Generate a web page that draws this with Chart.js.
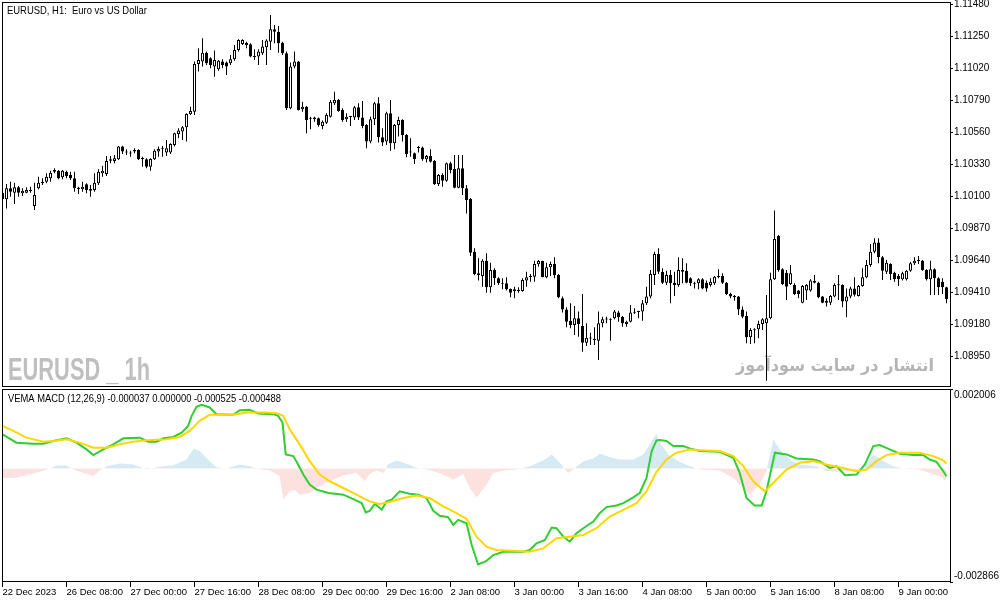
<!DOCTYPE html>
<html>
<head>
<meta charset="utf-8">
<script src="https://cdn.jsdelivr.net/npm/chart.js@4.4.1/dist/chart.umd.min.js"></script>
<style>
html, body { margin: 0; padding: 0; background: #fff; }
#wrap { position: relative; width: 1003px; height: 603px; overflow: hidden; }
canvas { position: absolute; left: 0; }
#price { top: 0; }
#macd { top: 388px; }
</style>
</head>
<body>
<div id="wrap">
  <canvas id="price" width="1003" height="388"></canvas>
  <canvas id="macd" width="1003" height="215"></canvas>
</div>
<script>
// EURUSD H1 candles, one entry per bar (index 0 = 22 Dec 2023)
const opens = [
  1.10124,1.10076,1.10155,1.10124,1.10162,1.10119,1.10124,1.10143,1.10028,1.10155,
  1.10191,1.10203,1.10227,1.10275,1.10282,1.10234,1.10275,1.10251,1.10227,1.10160,
  1.10148,1.10184,1.10150,1.10143,1.10191,1.10263,1.10258,1.10364,1.10352,1.10364,
  1.10455,1.10419,1.10405,1.10431,1.10431,1.10371,1.10364,1.10311,1.10364,1.10419,
  1.10440,1.10412,1.10412,1.10467,1.10546,1.10563,1.10594,1.10687,1.10706,1.11049,
  1.11066,1.11130,1.11090,1.11030,1.11011,1.11066,1.11059,1.11054,1.11082,1.11150,
  1.11193,1.11202,1.11190,1.11106,1.11102,1.11126,1.11169,1.11209,1.11298,1.11281,
  1.11202,1.11126,1.10730,1.11030,1.11066,1.10723,1.10742,1.10660,1.10651,1.10658,
  1.10603,1.10627,1.10670,1.10766,1.10790,1.10718,1.10651,1.10668,1.10665,1.10738,
  1.10665,1.10610,1.10491,1.10651,1.10766,1.10522,1.10491,1.10694,1.10479,1.10610,
  1.10646,1.10539,1.10412,1.10407,1.10445,1.10448,1.10364,1.10388,1.10352,1.10186,
  1.10251,1.10210,1.10335,1.10294,1.10160,1.10299,1.10155,1.10079,1.09700,1.09544,
  1.09525,1.09635,1.09444,1.09568,1.09508,1.09474,1.09472,1.09432,1.09417,1.09422,
  1.09417,1.09492,1.09518,1.09520,1.09609,1.09633,1.09516,1.09587,1.09611,1.09532,
  1.09365,1.09285,1.09204,1.09173,1.09221,1.09166,1.09046,1.09079,1.09072,1.09060,
  1.09185,1.09212,1.09216,1.09221,1.09262,1.09233,1.09180,1.09197,1.09260,1.09271,
  1.09269,1.09329,1.09377,1.09532,1.09683,1.09556,1.09477,1.09532,1.09477,1.09460,
  1.09568,1.09563,1.09508,1.09470,1.09472,1.09501,1.09477,1.09460,1.09472,1.09522,
  1.09525,1.09477,1.09396,1.09381,1.09377,1.09285,1.09238,1.09084,1.09135,1.09142,
  1.09180,1.09185,1.09221,1.09501,1.09813,1.09573,1.09549,1.09468,1.09460,1.09420,
  1.09333,1.09420,1.09420,1.09489,1.09477,1.09377,1.09348,1.09333,1.09377,1.09458,
  1.09460,1.09341,1.09377,1.09436,1.09381,1.09453,1.09516,1.09604,1.09700,1.09765,
  1.09659,1.09556,1.09611,1.09549,1.09525,1.09501,1.09501,1.09563,1.09616,1.09633,
  1.09635,1.09568,1.09501,1.09573,1.09508,1.09484,1.09444
];
const highs = [
  1.10131,1.10186,1.10203,1.10196,1.10172,1.10155,1.10162,1.10167,1.10196,1.10239,
  1.10227,1.10263,1.10282,1.10299,1.10287,1.10287,1.10282,1.10275,1.10275,1.10167,
  1.10203,1.10191,1.10179,1.10263,1.10292,1.10318,1.10388,1.10388,1.10395,1.10460,
  1.10462,1.10436,1.10426,1.10443,1.10436,1.10383,1.10371,1.10371,1.10436,1.10455,
  1.10460,1.10503,1.10479,1.10555,1.10587,1.10603,1.10694,1.10742,1.11066,1.11162,
  1.11233,1.11138,1.11097,1.11145,1.11078,1.11082,1.11066,1.11114,1.11186,1.11226,
  1.11226,1.11209,1.11198,1.11154,1.11154,1.11221,1.11226,1.11401,1.11329,1.11322,
  1.11209,1.11138,1.11059,1.11138,1.11071,1.10778,1.10747,1.10670,1.10670,1.10665,
  1.10642,1.10694,1.10790,1.10850,1.10797,1.10730,1.10694,1.10675,1.10747,1.10766,
  1.10783,1.10618,1.10670,1.10778,1.10809,1.10587,1.10706,1.10790,1.10618,1.10670,
  1.10651,1.10546,1.10515,1.10412,1.10460,1.10455,1.10395,1.10436,1.10359,1.10258,
  1.10263,1.10340,1.10347,1.10395,1.10395,1.10395,1.10179,1.10085,1.09724,1.09652,
  1.09645,1.09688,1.09621,1.09580,1.09516,1.09508,1.09516,1.09436,1.09448,1.09444,
  1.09508,1.09556,1.09539,1.09635,1.09640,1.09635,1.09621,1.09628,1.09659,1.09539,
  1.09377,1.09300,1.09329,1.09309,1.09269,1.09396,1.09185,1.09118,1.09156,1.09269,
  1.09233,1.09233,1.09221,1.09281,1.09276,1.09238,1.09204,1.09317,1.09293,1.09276,
  1.09353,1.09448,1.09568,1.09700,1.09724,1.09580,1.09563,1.09568,1.09556,1.09659,
  1.09652,1.09616,1.09516,1.09484,1.09508,1.09508,1.09492,1.09508,1.09525,1.09573,
  1.09544,1.09482,1.09405,1.09388,1.09381,1.09305,1.09269,1.09149,1.09149,1.09204,
  1.09221,1.09388,1.09549,1.09995,1.09820,1.09580,1.09568,1.09604,1.09472,1.09424,
  1.09460,1.09468,1.09501,1.09532,1.09484,1.09381,1.09365,1.09388,1.09472,1.09532,
  1.09465,1.09436,1.09448,1.09516,1.09460,1.09580,1.09640,1.09755,1.09796,1.09796,
  1.09669,1.09640,1.09616,1.09556,1.09539,1.09556,1.09568,1.09628,1.09659,1.09669,
  1.09640,1.09573,1.09635,1.09580,1.09516,1.09508,1.09448
];
const lows = [
  1.10071,1.10011,1.10095,1.10043,1.10095,1.10100,1.10119,1.10124,1.09999,1.10148,
  1.10179,1.10191,1.10203,1.10263,1.10220,1.10220,1.10227,1.10215,1.10131,1.10114,
  1.10131,1.10119,1.10095,1.10131,1.10179,1.10239,1.10244,1.10335,1.10335,1.10359,
  1.10402,1.10395,1.10383,1.10407,1.10359,1.10311,1.10299,1.10282,1.10359,1.10383,
  1.10383,1.10388,1.10402,1.10455,1.10515,1.10503,1.10491,1.10682,1.10682,1.10994,
  1.11030,1.11042,1.11018,1.10958,1.11001,1.11018,1.10970,1.11042,1.11073,1.11138,
  1.11186,1.11162,1.11097,1.11078,1.11042,1.11114,1.11042,1.11150,1.11198,1.11130,
  1.11114,1.10718,1.10723,1.11018,1.10714,1.10706,1.10551,1.10579,1.10634,1.10598,
  1.10579,1.10618,1.10665,1.10754,1.10706,1.10634,1.10634,1.10603,1.10646,1.10646,
  1.10587,1.10443,1.10479,1.10610,1.10484,1.10460,1.10467,1.10426,1.10436,1.10527,
  1.10491,1.10378,1.10383,1.10330,1.10412,1.10354,1.10340,1.10340,1.10179,1.10172,
  1.10167,1.10203,1.10263,1.10155,1.10155,1.10107,1.09975,1.09669,1.09530,1.09492,
  1.09448,1.09405,1.09405,1.09460,1.09460,1.09429,1.09420,1.09372,1.09365,1.09405,
  1.09412,1.09448,1.09484,1.09484,1.09592,1.09516,1.09508,1.09525,1.09508,1.09365,
  1.09262,1.09156,1.09149,1.09101,1.09089,1.08981,1.09022,1.09029,1.09029,1.08921,
  1.09156,1.09185,1.09060,1.09214,1.09197,1.09161,1.09161,1.09190,1.09252,1.09221,
  1.09204,1.09317,1.09365,1.09460,1.09539,1.09468,1.09460,1.09329,1.09381,1.09448,
  1.09472,1.09472,1.09453,1.09436,1.09429,1.09429,1.09412,1.09448,1.09460,1.09508,
  1.09468,1.09388,1.09365,1.09348,1.09245,1.09221,1.09041,1.09036,1.09041,1.09077,
  1.09137,1.08773,1.09214,1.09496,1.09556,1.09460,1.09353,1.09460,1.09388,1.09365,
  1.09329,1.09353,1.09412,1.09472,1.09365,1.09329,1.09305,1.09317,1.09372,1.09353,
  1.09300,1.09228,1.09365,1.09377,1.09377,1.09448,1.09508,1.09592,1.09688,1.09616,
  1.09496,1.09539,1.09496,1.09484,1.09453,1.09492,1.09492,1.09556,1.09604,1.09611,
  1.09563,1.09492,1.09388,1.09388,1.09388,1.09396,1.09329
];
const closes = [
  1.10076,1.10155,1.10131,1.10162,1.10124,1.10138,1.10143,1.10134,1.10107,1.10196,
  1.10203,1.10239,1.10268,1.10287,1.10227,1.10282,1.10244,1.10227,1.10155,1.10150,
  1.10167,1.10143,1.10138,1.10196,1.10275,1.10282,1.10352,1.10354,1.10371,1.10455,
  1.10419,1.10412,1.10410,1.10419,1.10364,1.10366,1.10311,1.10366,1.10426,1.10438,
  1.10445,1.10443,1.10474,1.10551,1.10570,1.10594,1.10690,1.10711,1.11049,1.11078,
  1.11130,1.11054,1.11042,1.11078,1.11073,1.11042,1.11030,1.11082,1.11150,1.11221,
  1.11221,1.11186,1.11102,1.11097,1.11138,1.11174,1.11217,1.11298,1.11281,1.11198,
  1.11126,1.10730,1.11030,1.11066,1.10718,1.10742,1.10646,1.10655,1.10665,1.10610,
  1.10634,1.10682,1.10778,1.10790,1.10711,1.10646,1.10670,1.10672,1.10738,1.10665,
  1.10603,1.10491,1.10651,1.10766,1.10522,1.10484,1.10694,1.10479,1.10610,1.10646,
  1.10539,1.10402,1.10419,1.10364,1.10450,1.10364,1.10388,1.10347,1.10186,1.10251,
  1.10210,1.10335,1.10287,1.10160,1.10299,1.10155,1.10071,1.09693,1.09539,1.09532,
  1.09635,1.09444,1.09568,1.09508,1.09472,1.09470,1.09429,1.09405,1.09429,1.09418,
  1.09496,1.09516,1.09522,1.09611,1.09633,1.09516,1.09587,1.09611,1.09532,1.09372,
  1.09285,1.09197,1.09173,1.09221,1.09180,1.09046,1.09082,1.09075,1.09065,1.09185,
  1.09214,1.09216,1.09210,1.09269,1.09228,1.09185,1.09197,1.09262,1.09265,1.09266,
  1.09329,1.09377,1.09539,1.09683,1.09556,1.09477,1.09532,1.09472,1.09460,1.09568,
  1.09556,1.09477,1.09472,1.09474,1.09501,1.09436,1.09436,1.09484,1.09520,1.09518,
  1.09477,1.09396,1.09377,1.09372,1.09285,1.09233,1.09084,1.09137,1.09140,1.09180,
  1.09214,1.09221,1.09501,1.09791,1.09568,1.09468,1.09448,1.09544,1.09396,1.09396,
  1.09453,1.09460,1.09492,1.09477,1.09372,1.09333,1.09333,1.09381,1.09460,1.09462,
  1.09341,1.09377,1.09436,1.09390,1.09453,1.09516,1.09604,1.09700,1.09765,1.09659,
  1.09563,1.09621,1.09539,1.09501,1.09501,1.09544,1.09563,1.09616,1.09635,1.09637,
  1.09568,1.09501,1.09573,1.09508,1.09444,1.09444,1.09357
];

// axis labels
const priceTicks = [1.08950,1.09180,1.09410,1.09640,1.09870,1.10100,1.10330,1.10560,1.10790,1.11020,1.11250,1.11480];
const timeTickIdx = [0,16,32,48,64,80,96,112,128,144,160,176,192,208,224];
const timeLabels = ['22 Dec 2023','26 Dec 08:00','27 Dec 00:00','27 Dec 16:00','28 Dec 08:00','29 Dec 00:00',
  '29 Dec 16:00','2 Jan 08:00','3 Jan 00:00','3 Jan 16:00','4 Jan 08:00','5 Jan 00:00','5 Jan 16:00',
  '8 Jan 08:00','9 Jan 00:00'];
const macdRange = [-0.002866, 0.002006];

// VEMA MACD (bar index, value)
const macdIdx = [0,3.5,7.7,10.2,12.7,16,18.5,21,22.7,25.2,27.7,30.2,34.3,36.4,38.5,40.2,42.7,44.8,46.4,47.3,
  48.5,49.8,51.8,53.5,57.7,59.3,61.8,63.9,67.7,68.9,70,70.8,72.7,73.9,75.2,76.8,78.5,81.5,85.2,87.7,
  89.8,90.8,91.8,93.1,94.8,96,97.3,99.3,101.8,103.9,106,107.7,109.3,111.4,112.7,113.9,116,117.3,118.9,121,
  122.7,125.2,130.2,131.8,133.5,135.6,137.3,138.5,140.2,141.8,143.5,145.2,147.7,149.3,151,153.5,155.2,157.7,159.3,161,
  162.3,163.5,164.3,166,167.7,170.2,171.8,174.3,179.3,182.7,184.3,186,188,189.8,191,193.1,196,198.5,202.7,204.3,
  206.8,208.5,210.6,213.5,215.6,217.7,219.3,221.8,224.3,227.7,230.2,231.8,233.5,235.2,236];
const macdVals = [0.000860,0.000651,0.000625,0.000625,0.000693,0.000761,0.000651,0.000481,0.000337,0.000481,
  0.000608,0.000761,0.000778,0.000676,0.000676,0.000761,0.000795,0.000905,0.001074,0.001328,
  0.001557,0.001608,0.001540,0.001371,0.001354,0.001472,0.001481,0.001388,0.001371,0.001328,
  0.001159,0.000354,0.000312,0.000100,-0.000154,-0.000408,-0.000535,-0.000620,-0.000662,-0.000772,
  -0.000874,-0.001111,-0.001069,-0.000891,-0.001043,-0.000832,-0.000789,-0.000577,-0.000637,-0.000662,
  -0.000747,-0.001069,-0.001196,-0.001230,-0.001424,-0.001297,-0.001382,-0.001933,-0.002424,-0.002331,
  -0.002187,-0.002102,-0.002102,-0.002060,-0.001890,-0.001806,-0.001492,-0.001509,-0.001721,-0.001848,
  -0.001636,-0.001509,-0.001340,-0.001128,-0.000975,-0.000933,-0.000874,-0.000730,-0.000620,-0.000239,
  0.000439,0.000710,0.000718,0.000693,0.000566,0.000566,0.000507,0.000439,0.000422,0.000270,
  -0.000112,-0.000747,-0.000933,-0.000933,-0.000577,0.000397,0.000354,0.000253,0.000227,0.000185,
  0.000015,0.000058,-0.000171,-0.000154,0.000100,0.000566,0.000591,0.000481,0.000371,0.000337,
  0.000337,0.000227,0.000168,-0.000069,-0.000196];
const signalIdx = [0,2.7,6,10.2,12.7,16,19.3,22.7,26,29.3,32.7,36,41,44.3,46.8,49.3,51.8,57.7,61,66,
  68.5,70.2,71.8,74.3,76.8,79.3,81.8,85.2,88.5,91.8,94.3,96.8,100.2,103.5,106.8,110.2,113.5,116,118.5,121,
  123.5,127.7,131.8,135.2,138.5,141.8,145.2,148.5,151.8,155.2,158.5,161,163.5,166,168.5,171.8,176,179.3,182.7,185.2,
  187.7,190.6,193.1,196,199.3,202.7,206,209.3,213.5,216,218.5,221,224.3,229.3,232.7,235.2,236];
const signalVals = [0.001074,0.000947,0.000778,0.000676,0.000693,0.000735,0.000651,0.000524,0.000524,0.000608,
  0.000676,0.000710,0.000735,0.000795,0.000947,0.001201,0.001354,0.001354,0.001413,0.001413,
  0.001396,0.001328,0.000990,0.000608,0.000185,-0.000154,-0.000323,-0.000493,-0.000662,-0.000832,
  -0.000899,-0.000848,-0.000747,-0.000680,-0.000747,-0.000959,-0.001128,-0.001272,-0.001721,-0.001975,
  -0.002060,-0.002077,-0.002102,-0.002017,-0.001763,-0.001721,-0.001679,-0.001509,-0.001213,-0.001043,
  -0.000874,-0.000577,-0.000086,0.000227,0.000397,0.000481,0.000456,0.000439,0.000312,0.000058,
  -0.000323,-0.000577,-0.000323,-0.000027,0.000143,0.000185,0.000100,0.000032,-0.000069,-0.000027,
  0.000185,0.000337,0.000397,0.000397,0.000312,0.000202,0.000126];
const histIdx = [0,2.7,6,9.3,11.8,13.5,16,17.7,21,22.7,24.3,26,29.3,32.7,36,39.3,42.7,46,47.8,49.3,
  51.8,53.5,56,59.3,61.8,64.3,66.8,69.3,70.2,71.8,73.1,74.3,76.8,79.3,81.8,85.2,88.5,90.6,91.8,93.5,
  95.2,96.4,98.5,101,103.5,106,109.3,112.7,115.2,116.8,118.5,121,122.7,125.2,128.5,131.8,135.2,137.3,139.3,141.4,
  142.7,145.2,147.7,149.3,151.8,154.3,157.7,160.2,162.3,163.5,164.3,166.8,169.3,171.8,174.3,179.3,182.7,185.2,186.8,189.3,
  191,192.7,194.3,196.8,199.3,203.5,206,209.3,213.5,215.2,217.7,220.2,222.7,225.2,229.3,231.8,234.3,236];
const histVals = [-0.000239,-0.000239,-0.000171,-0.000086,-0.000002,0.000075,0.000075,-0.000027,-0.000137,-0.000196,
  -0.000052,0.000058,0.000126,0.000100,-0.000027,0.000041,0.000083,0.000227,0.000507,0.000439,
  0.000185,0.000032,-0.000002,0.000100,0.000058,-0.000027,-0.000044,-0.000196,-0.000789,-0.000577,
  -0.000535,-0.000662,-0.000620,-0.000450,-0.000323,-0.000171,-0.000112,-0.000323,-0.000137,-0.000052,
  -0.000112,0.000100,0.000202,0.000117,0.000015,-0.000027,-0.000112,-0.000281,-0.000137,-0.000493,
  -0.000730,-0.000408,-0.000112,-0.000052,-0.000027,0.000058,0.000202,0.000354,0.000143,-0.000112,
  -0.000027,0.000185,0.000253,0.000371,0.000287,0.000227,0.000227,0.000354,0.000693,0.000879,
  0.000651,0.000312,0.000168,0.000058,-0.000027,-0.000052,-0.000239,-0.000493,-0.000662,-0.000408,
  -0.000069,0.000735,0.000481,0.000227,0.000100,0.000058,-0.000069,-0.000086,-0.000052,0.000015,
  0.000354,0.000185,0.000058,-0.000002,-0.000027,-0.000112,-0.000196,-0.000323];

const FONT = '"Liberation Sans", Arial, sans-serif';
Chart.defaults.font.family = FONT;
Chart.defaults.font.size = 9.5;
Chart.defaults.color = '#000';

// bar index axis shared by both windows (4 px per bar)
const xMin = -0.125, xMax = 236.875;

// black frame round the plot area, like the terminal draws it
const framePlugin = {
  id: 'frame',
  afterDraw(chart) {
    const a = chart.chartArea, ctx = chart.ctx;
    ctx.save();
    ctx.strokeStyle = '#000';
    ctx.lineWidth = 1;
    ctx.strokeRect(a.left + 0.5, a.top + 0.5, a.right - a.left, a.bottom - a.top - 1);
    ctx.restore();
  }
};

// text squeezed to a given width (terminal font is narrow and tall)
function fitText(ctx, text, x, y, width, font, color) {
  ctx.save();
  ctx.fillStyle = color;
  ctx.font = font;
  ctx.textBaseline = 'middle';
  const w = ctx.measureText(text).width;
  ctx.translate(x, y);
  ctx.scale(width / w, 1);
  ctx.fillText(text, 0, 0);
  ctx.restore();
}

function noPad(s) {
  s.paddingTop = 0; s.paddingBottom = 0; s.paddingLeft = 0; s.paddingRight = 0;
}

function rightAxis(extra) {
  return Object.assign({
    position: 'right',
    grid: { drawOnChartArea: false, drawTicks: true, tickLength: 3, tickColor: '#000' },
    border: { display: false },
    afterFit(s) { s.width = 53; noPad(s); }
  }, extra);
}

// ---- price window ----
new Chart(document.getElementById('price'), {
  type: 'bar',
  data: {
    datasets: [
      {
        label: 'body',
        data: opens.map((o, i) => ({ x: i, y: [o, closes[i]] })),
        backgroundColor: ctx => closes[ctx.dataIndex] >= opens[ctx.dataIndex] ? '#fff' : '#000',
        borderColor: '#000',
        borderWidth: 1,
        borderSkipped: false,
        inflateAmount: 0,
        grouped: false,
        barThickness: 3,
        maxBarThickness: 3,
        minBarLength: 1
      },
      {
        label: 'wick',
        data: lows.map((l, i) => ({ x: i, y: [l, highs[i]] })),
        backgroundColor: '#000',
        borderWidth: 0,
        inflateAmount: 0,
        grouped: false,
        barThickness: 1,
        maxBarThickness: 1
      }
    ]
  },
  options: {
    responsive: false,
    animation: false,
    layout: { padding: { left: 2, top: 2, right: 0, bottom: 1 } },
    plugins: { legend: { display: false }, tooltip: { enabled: false } },
    scales: {
      x: { type: 'linear', min: xMin, max: xMax, offset: false, display: false },
      y: rightAxis({
        min: 1.0872719,
        max: 1.1149438,
        afterBuildTicks(axis) { axis.ticks = priceTicks.map(v => ({ value: v })); },
        ticks: { padding: 1, autoSkip: false, font: { size: 10 }, callback: v => v.toFixed(5) }
      })
    }
  },
  plugins: [framePlugin, {
    id: 'priceText',
    beforeDatasetsDraw(chart) {
      const ctx = chart.ctx;
      ctx.save();
      ctx.fillStyle = '#bfbfbf';
      ctx.font = 'bold 32px "Liberation Sans Narrow", "Liberation Sans", sans-serif';
      ctx.textBaseline = 'alphabetic';
      const t1 = 'EURUSD _ 1h';
      const w1 = ctx.measureText(t1).width;
      ctx.translate(8, 380);
      ctx.scale(142 / w1, 1);
      ctx.fillText(t1, 0, 0);
      ctx.restore();

      ctx.save();
      ctx.fillStyle = '#b5b5b5';
      ctx.font = 'bold 17px "DejaVu Sans", sans-serif';
      ctx.direction = 'rtl';
      ctx.textAlign = 'right';
      ctx.textBaseline = 'alphabetic';
      const t2 = 'انتشار در سایت سودآموز';
      const w2 = ctx.measureText(t2).width;
      ctx.translate(934, 371);
      ctx.scale(198 / w2, 1);
      ctx.fillText(t2, 0, 0);
      ctx.restore();
    },
    afterDraw(chart) {
      fitText(chart.ctx, 'EURUSD, H1:  Euro vs US Dollar', 7, 10.5, 140, '11px ' + FONT, '#000');
    }
  }]
});

// ---- MACD window ----
const pts = (xs, ys) => xs.map((x, i) => ({ x: x, y: ys[i] }));

new Chart(document.getElementById('macd'), {
  type: 'line',
  data: {
    datasets: [
      { label: 'signal', data: pts(signalIdx, signalVals), borderColor: '#FFD700', borderWidth: 2, pointRadius: 0, fill: false },
      { label: 'macd', data: pts(macdIdx, macdVals), borderColor: '#32CD32', borderWidth: 2, pointRadius: 0, fill: false },
      {
        label: 'hist', data: pts(histIdx, histVals),
        borderColor: 'rgba(0,0,0,0)', borderWidth: 0, pointRadius: 0,
        fill: { target: 'origin', above: '#d6eaf3', below: '#fde1de' }
      }
    ]
  },
  options: {
    responsive: false,
    animation: false,
    layout: { padding: { left: 2, top: 1, right: 0, bottom: 0 } },
    plugins: { legend: { display: false }, tooltip: { enabled: false } },
    scales: {
      x: {
        type: 'linear', min: xMin, max: xMax, offset: false,
        position: 'bottom',
        afterBuildTicks(axis) { axis.ticks = timeTickIdx.map(v => ({ value: v })); },
        afterFit(s) { s.height = 21; noPad(s); },
        grid: { drawOnChartArea: false, drawTicks: true, tickLength: 5, tickColor: '#000' },
        border: { display: false },
        ticks: { align: 'start', padding: 0, autoSkip: false, maxRotation: 0, minRotation: 0,
          callback: (v, i) => timeLabels[i] }
      },
      y: rightAxis({
        min: macdRange[0],
        max: macdRange[1],
        afterBuildTicks(axis) { axis.ticks = macdRange.map(v => ({ value: v })); },
        ticks: { padding: 1, autoSkip: false, font: { size: 10 },
          callback: v => v > 0 ? ['', v.toFixed(6)] : [v.toFixed(6), ''] }
      })
    }
  },
  plugins: [framePlugin, {
    id: 'macdText',
    afterDraw(chart) {
      fitText(chart.ctx, 'VEMA MACD (12,26,9) -0.000037 0.000000 -0.000525 -0.000488', 8, 10.5, 273,
        '11px ' + FONT, '#000');
    }
  }]
});
</script>
</body>
</html>
